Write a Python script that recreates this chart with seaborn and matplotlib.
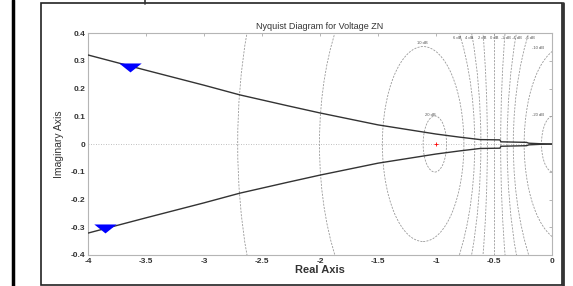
import numpy as np
import pandas as pd
import matplotlib
matplotlib.use("Agg")
import matplotlib.pyplot as plt
import seaborn as sns
from matplotlib.patches import Circle, Rectangle
from matplotlib.lines import Line2D
from matplotlib.path import Path

# Nyquist curve, upper branch (positive frequencies)
re_upper = [-4.0, -3.5, -3.0, -2.69, -2.28, -2.0, -1.5, -1.0, -0.8, -0.62, -0.45, -0.44, -0.22, -0.2, -0.1, 0.0]
im_upper = [0.321, 0.266, 0.212, 0.177, 0.138, 0.112, 0.069, 0.036, 0.025, 0.016, 0.015, 0.008, 0.006, 0.003, 0.001, 0.0]

# direction arrows
arrow_re = [-3.64, -3.85]
arrow_im = [0.278, -0.303]

# M-circle levels (dB) and their labels
m_db = [20, 10, 6, 4, 2, -2, -4, -6, -10, -20]
label_txt = ["10 dB", "20 dB", "6 dB", "4 dB", "2 dB", "0 dB", "-2 dB", "-4 dB", "-6 dB", "-10 dB", "-20 dB"]
label_re = [-1.12, -1.05, -0.82, -0.71, -0.60, -0.50, -0.40, -0.30, -0.19, -0.12, -0.12]
label_im = [0.365, 0.105, 0.383, 0.383, 0.383, 0.383, 0.383, 0.383, 0.383, 0.345, 0.105]

xticks = [-4, -3.5, -3, -2.5, -2, -1.5, -1, -0.5, 0]
yticks = [-0.4, -0.3, -0.2, -0.1, 0, 0.1, 0.2, 0.3, 0.4]

sns.set_style("white")
plt.rcParams['font.family'] = ['Liberation Sans', 'DejaVu Sans']

fig = plt.figure(figsize=(5.73, 2.86), dpi=100)
ax = fig.add_axes([0.1536, 0.1084, 0.8098, 0.776])

grid_col = "#999999"
# M-circles
for db in m_db:
    M = 10 ** (db / 20.0)
    c = -M ** 2 / (M ** 2 - 1)
    r = abs(M / (M ** 2 - 1))
    ax.add_patch(Circle((c, 0), r, fill=False, ec=grid_col, lw=0.6, ls=(0, (2.5, 1.5)), zorder=1))
ax.axvline(-0.5, color=grid_col, lw=0.6, ls=(0, (2.5, 1.5)), zorder=1)
ax.axhline(0, color="#aaaaaa", lw=0.6, ls=(0, (1, 2)), zorder=1)

for t, x, y in zip(label_txt, label_re, label_im):
    ax.text(x, y, t, fontsize=3, color="#555555", ha="center", va="center", zorder=2)

# Nyquist curve
upper = pd.DataFrame({"re": re_upper, "im": im_upper})
lower = pd.DataFrame({"re": re_upper, "im": [-v for v in im_upper]})
sns.lineplot(data=upper, x="re", y="im", sort=False, color="#333333", lw=1.0, ax=ax, zorder=3)
sns.lineplot(data=lower, x="re", y="im", sort=False, color="#333333", lw=1.0, ax=ax, zorder=3)

# critical point
ax.plot([-1], [0], marker="+", color="red", ms=3, mew=0.6, zorder=4)

# wide downward triangles as arrows
tri = Path([(-1.25, 0.45), (1.25, 0.45), (0, -0.55), (-1.25, 0.45)],
           [Path.MOVETO, Path.LINETO, Path.LINETO, Path.CLOSEPOLY])
sns.scatterplot(x=arrow_re, y=arrow_im, marker=tri, s=260, color="blue", edgecolor="blue", linewidth=0, ax=ax, zorder=5)

ax.set_xlim(-4, 0)
ax.set_ylim(-0.4, 0.4)
ax.set_xticks(xticks)
ax.set_xticklabels([f"{v:g}" for v in xticks])
ax.set_yticks(yticks)
ax.set_yticklabels([f"{v:g}" for v in yticks])
ax.tick_params(direction="in", length=2.5, width=0.6, color="#aaaaaa", labelsize=6,
               labelcolor="#333333", pad=2, top=True, right=True)
for lbl in ax.get_xticklabels() + ax.get_yticklabels():
    lbl.set_fontweight("bold")
for s in ax.spines.values():
    s.set_color("#b5b5b5")
    s.set_linewidth(0.8)

ax.set_title("Nyquist Diagram for Voltage ZN", fontsize=6.5, color="#333333", pad=3)
ax.set_xlabel("Real Axis", fontsize=8, fontweight="bold", color="#333333", labelpad=0)
ax.set_ylabel("Imaginary Axis", fontsize=7.5, color="#333333", labelpad=5)

# outer frames of the figure
fig.add_artist(Line2D([12.5 / 573, 12.5 / 573], [0, 1], color="black", lw=2.5))
fig.add_artist(Rectangle((41 / 573, 1 / 286), (562 - 41) / 573, (283 - 1) / 286,
                         fill=False, ec="#222222", lw=1.2))
fig.add_artist(Line2D([563 / 573, 563 / 573], [0, 1 - 3 / 286], color="#333333", lw=2.0))
fig.add_artist(Line2D([145 / 573, 145 / 573], [1 - 3.5 / 286, 1], color="#333333", lw=1.2))

fig.savefig("out.png", dpi=100)
